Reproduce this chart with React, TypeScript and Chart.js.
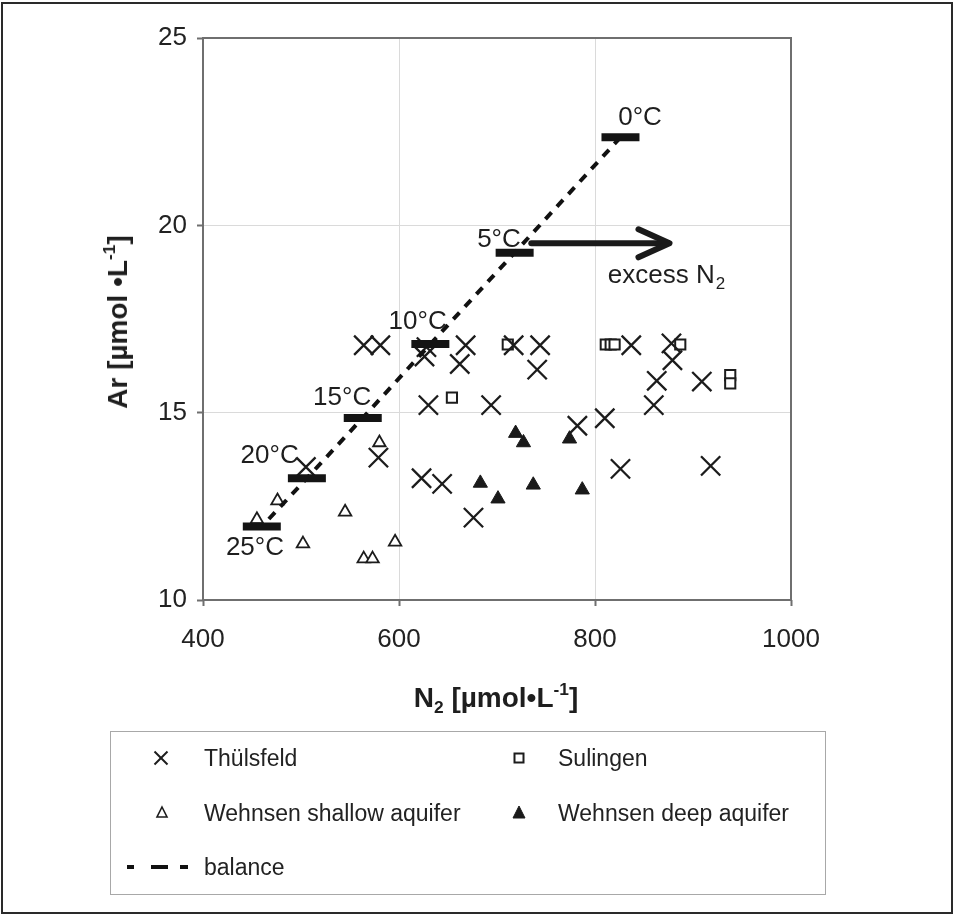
import React, { useEffect, useRef } from "react";
import { Chart, registerables } from "chart.js";

Chart.register(...registerables);

const FONT = "'Liberation Sans', Arial, Helvetica, sans-serif";

// ---- data ----
const thulsfeldN2 = [564, 581, 628, 626, 668, 662, 630, 694, 579, 505, 623, 644, 676, 717, 744, 741, 782, 810, 837, 878, 879, 863, 909, 860, 826, 918];
const thulsfeldAr = [16.8, 16.8, 16.75, 16.5, 16.8, 16.3, 15.2, 15.2, 13.8, 13.55, 13.25, 13.1, 12.2, 16.8, 16.8, 16.15, 14.65, 14.85, 16.8, 16.85, 16.4, 15.85, 15.83, 15.2, 13.5, 13.58];

const sulingenN2 = [654, 711, 811, 816, 820, 887, 938, 938];
const sulingenAr = [15.4, 16.82, 16.82, 16.82, 16.82, 16.82, 16.0, 15.78];

const shallowN2 = [580, 476, 455, 545, 502, 596, 564, 573];
const shallowAr = [14.2, 12.65, 12.15, 12.35, 11.5, 11.55, 11.1, 11.1];

const deepN2 = [719, 727, 774, 683, 701, 737, 787];
const deepAr = [14.45, 14.2, 14.3, 13.12, 12.7, 13.07, 12.94];

const balanceTemps = ["0°C", "5°C", "10°C", "15°C", "20°C", "25°C"];
const balanceN2 = [826, 718, 632, 563, 506, 460];
const balanceAr = [22.35, 19.27, 16.83, 14.86, 13.25, 11.96];

const xTicks = [400, 600, 800, 1000];
const yTicks = [10, 15, 20, 25];

// ---- annotation anchors (axis units) ----
const tempLabelN2 = [846, 702, 619, 542, 468, 453];
const tempLabelAr = [22.86, 19.61, 17.43, 15.39, 13.84, 11.38];
const arrowN2 = [735, 876];
const arrowAr = 19.52;
const excessAnchor = { n2: 813, ar: 18.65 };

const pts = (xs: number[], ys: number[]) => xs.map((x, i) => ({ x, y: ys[i] }));

const annotationPlugin = {
  id: "annotations",
  beforeDatasetsDraw(chart: any) {
    const { ctx, chartArea: a } = chart;
    ctx.save();
    ctx.strokeStyle = "#6f6f6f";
    ctx.lineWidth = 2;
    ctx.strokeRect(a.left, a.top, a.right - a.left, a.bottom - a.top);
    ctx.restore();
  },
  afterDatasetsDraw(chart: any) {
    const { ctx } = chart;
    const xs = chart.scales.x;
    const ys = chart.scales.y;
    ctx.save();
    ctx.fillStyle = "#1e1e1e";
    ctx.font = `26px ${FONT}`;
    ctx.textAlign = "center";
    ctx.textBaseline = "middle";
    balanceTemps.forEach((t, i) => {
      ctx.fillText(t, xs.getPixelForValue(tempLabelN2[i]), ys.getPixelForValue(tempLabelAr[i]));
    });
    // arrow
    const x0 = xs.getPixelForValue(arrowN2[0]);
    const x1 = xs.getPixelForValue(arrowN2[1]);
    const yy = ys.getPixelForValue(arrowAr);
    ctx.strokeStyle = "#1a1a1a";
    ctx.lineWidth = 6;
    ctx.lineCap = "round";
    ctx.lineJoin = "round";
    ctx.beginPath();
    ctx.moveTo(x0, yy);
    ctx.lineTo(x1 - 3, yy);
    ctx.stroke();
    ctx.beginPath();
    ctx.moveTo(x1 - 31, yy - 14);
    ctx.lineTo(x1, yy);
    ctx.lineTo(x1 - 31, yy + 14);
    ctx.stroke();
    // excess N2
    const ex = xs.getPixelForValue(excessAnchor.n2);
    const ey = ys.getPixelForValue(excessAnchor.ar);
    ctx.textAlign = "left";
    ctx.fillText("excess N", ex, ey);
    const w = ctx.measureText("excess N").width;
    ctx.font = `17px ${FONT}`;
    ctx.fillText("2", ex + w + 1, ey + 8);
    ctx.restore();
  },
};

function ScatterChart() {
  const ref = useRef<HTMLCanvasElement | null>(null);
  useEffect(() => {
    if (!ref.current) return;
    const chart = new Chart(ref.current, {
      type: "scatter",
      data: {
        datasets: [
          {
            label: "balance",
            data: pts(balanceN2, balanceAr),
            showLine: true,
            borderColor: "#111",
            borderWidth: 4,
            borderDash: [9, 8],
            pointStyle: "line",
            pointRadius: 19,
            pointBorderWidth: 8,
            pointBorderColor: "#141414",
            pointBackgroundColor: "#141414",
          } as any,
          {
            label: "Thülsfeld",
            data: pts(thulsfeldN2, thulsfeldAr),
            pointStyle: "crossRot",
            pointRadius: 13.6,
            pointBorderWidth: 2.3,
            pointBorderColor: "#1c1c1c",
            pointBackgroundColor: "rgba(0,0,0,0)",
          },
          {
            label: "Sulingen",
            data: pts(sulingenN2, sulingenAr),
            pointStyle: "rect",
            pointRadius: 7.2,
            pointBorderWidth: 2,
            pointBorderColor: "#1c1c1c",
            pointBackgroundColor: "#fff",
          },
          {
            label: "Wehnsen shallow aquifer",
            data: pts(shallowN2, shallowAr),
            pointStyle: "triangle",
            pointRadius: 7.2,
            pointBorderWidth: 1.8,
            pointBorderColor: "#1c1c1c",
            pointBackgroundColor: "#fff",
          },
          {
            label: "Wehnsen deep aquifer",
            data: pts(deepN2, deepAr),
            pointStyle: "triangle",
            pointRadius: 8.2,
            pointBorderWidth: 1,
            pointBorderColor: "#1a1a1a",
            pointBackgroundColor: "#1a1a1a",
          },
        ],
      },
      options: {
        responsive: false,
        animation: false,
        devicePixelRatio: 1,
        layout: { padding: { left: 0, right: 164, top: 38, bottom: 216 } },
        plugins: { legend: { display: false }, tooltip: { enabled: false } },
        scales: {
          x: {
            type: "linear",
            min: 400,
            max: 1000,
            afterBuildTicks: (s: any) => {
              s.ticks = xTicks.map((v) => ({ value: v }));
            },
            afterFit: (s: any) => {
              s.height = 100;
            },
            border: { display: false },
            grid: { color: "#dadada", lineWidth: 1, tickLength: 6, tickColor: "#6f6f6f", tickWidth: 2 },
            ticks: {
              color: "#222",
              font: { family: FONT, size: 26 },
              padding: 18,
              maxRotation: 0,
              callback: (v: any) => String(v),
            },
          },
          y: {
            type: "linear",
            min: 10,
            max: 25,
            afterBuildTicks: (s: any) => {
              s.ticks = yTicks.map((v) => ({ value: v }));
            },
            afterFit: (s: any) => {
              s.width = 203;
            },
            border: { display: false },
            grid: { color: "#dadada", lineWidth: 1, tickLength: 6, tickColor: "#6f6f6f", tickWidth: 2 },
            ticks: {
              color: "#222",
              font: { family: FONT, size: 26 },
              padding: 10,
              callback: (v: any) => String(v),
            },
          },
        },
      },
      plugins: [annotationPlugin],
    });
    return () => chart.destroy();
  }, []);
  return (
    <canvas
      ref={ref}
      width={955}
      height={916}
      style={{ position: "absolute", left: 0, top: 0, width: 955, height: 916 }}
    />
  );
}

const sup = { fontSize: "0.62em", position: "relative" as const, top: "-0.7em" };
const sub = { fontSize: "0.62em", position: "relative" as const, top: "0.35em" };

function Legend() {
  const text = {
    position: "absolute" as const,
    fontSize: 23,
    lineHeight: "28px",
    color: "#222",
    whiteSpace: "nowrap" as const,
  };
  return (
    <>
      <div
        style={{
          position: "absolute",
          left: 110,
          top: 731,
          width: 716,
          height: 164,
          boxSizing: "border-box",
          border: "1.5px solid #a8a8a8",
        }}
      />
      <svg width={955} height={916} style={{ position: "absolute", left: 0, top: 0 }}>
        <g stroke="#1c1c1c" strokeWidth={2} fill="none">
          <line x1={154.5} y1={751.5} x2={167.5} y2={764.5} />
          <line x1={154.5} y1={764.5} x2={167.5} y2={751.5} />
          <rect x={514.5} y={753.5} width={9} height={9} fill="#fff" />
          <polygon points="162,807 167,817 157,817" strokeWidth={1.6} fill="#fff" />
          <polygon points="519,806 525,818 513,818" strokeWidth={1} fill="#1a1a1a" />
        </g>
        <g fill="#111">
          <rect x={127} y={865} width={7} height={4} />
          <rect x={151} y={865} width={17} height={4} />
          <rect x={180} y={865} width={8} height={4} />
        </g>
      </svg>
      <div style={{ ...text, left: 204, top: 744 }}>Thülsfeld</div>
      <div style={{ ...text, left: 558, top: 744 }}>Sulingen</div>
      <div style={{ ...text, left: 204, top: 799 }}>Wehnsen shallow aquifer</div>
      <div style={{ ...text, left: 558, top: 799 }}>Wehnsen deep aquifer</div>
      <div style={{ ...text, left: 204, top: 853 }}>balance</div>
    </>
  );
}

export default function App() {
  return (
    <div
      style={{
        position: "absolute",
        left: 0,
        top: 0,
        width: 955,
        height: 916,
        background: "#fff",
        fontFamily: FONT,
        overflow: "hidden",
      }}
    >
      <div
        style={{
          position: "absolute",
          left: 1,
          top: 2,
          width: 952,
          height: 912,
          boxSizing: "border-box",
          border: "2px solid #2a2a2a",
        }}
      />
      <ScatterChart />
      <div
        style={{
          position: "absolute",
          left: 118,
          top: 322,
          transform: "translate(-50%, -50%) rotate(-90deg)",
          fontWeight: "bold",
          fontSize: 28,
          lineHeight: 1,
          whiteSpace: "nowrap",
          color: "#1e1e1e",
        }}
      >
        Ar [µmol •L<span style={sup}>-1</span>]
      </div>
      <div
        style={{
          position: "absolute",
          left: 496,
          top: 698,
          transform: "translate(-50%, -50%)",
          fontWeight: "bold",
          fontSize: 28,
          lineHeight: 1,
          whiteSpace: "nowrap",
          color: "#1e1e1e",
        }}
      >
        N<span style={sub}>2</span> [µmol•L<span style={sup}>-1</span>]
      </div>
      <Legend />
    </div>
  );
}
